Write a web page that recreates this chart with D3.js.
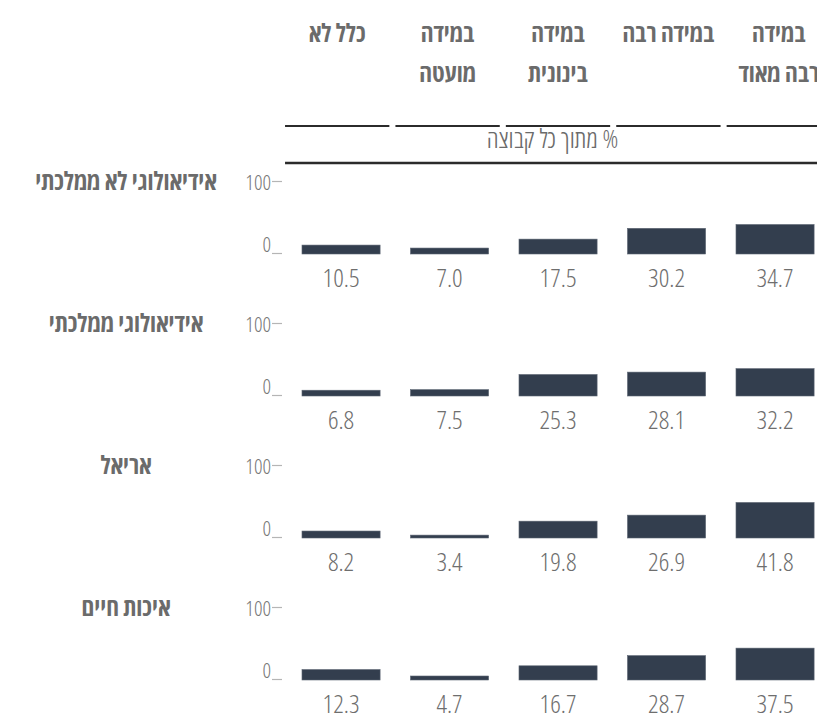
<!DOCTYPE html>
<html lang="he">
<head>
<meta charset="utf-8">
<script src="https://cdn.jsdelivr.net/npm/d3@7"></script>
<style>
  html, body { margin: 0; padding: 0; background: #fff; overflow: hidden; }
  svg { display: block; }
  text { font-family: "Open Sans", "DejaVu Sans Condensed", sans-serif; font-stretch: 75%; }
</style>
</head>
<body>
<svg id="chart" width="817" height="715"></svg>
<script>
// ---- data ----
const categories = ["כלל לא", "במידה מועטה", "במידה בינונית", "במידה רבה", "במידה רבה מאוד"];
const categoryLines = [["כלל לא"], ["במידה", "מועטה"], ["במידה", "בינונית"], ["במידה רבה"], ["במידה", "רבה מאוד"]];
const groups = ["אידיאולוגי לא ממלכתי", "אידיאולוגי ממלכתי", "אריאל", "איכות חיים"];
const valuesIdeologicalNonState = [10.5, 7.0, 17.5, 30.2, 34.7];
const valuesIdeologicalState = [6.8, 7.5, 25.3, 28.1, 32.2];
const valuesAriel = [8.2, 3.4, 19.8, 26.9, 41.8];
const valuesQualityOfLife = [12.3, 4.7, 16.7, 28.7, 37.5];
const seriesValues = [valuesIdeologicalNonState, valuesIdeologicalState, valuesAriel, valuesQualityOfLife];
const yTicks = [0, 100];
const unitLabel = "% מתוך כל קבוצה";

// ---- layout ----
const W = 817, H = 715;
const svg = d3.select("#chart");

const x = d3.scaleBand().domain(categories).range([286.8, 829.3]).paddingInner(0.28).paddingOuter(0.14);
const xHead = d3.scaleBand().domain(categories).range([282, 834]).paddingInner(0.055).paddingOuter(0.0275);
const rowBase = d3.scalePoint().domain(groups).range([254, 680]);
const barH = d3.scaleLinear().domain([0, 100]).range([0, 85]);

const barColor = "#333e4e";
const textGray = "#6b6b6b";

// header labels
const head = svg.append("g");
categories.forEach((c, i) => {
  const cx = xHead(c) + xHead.bandwidth() / 2;
  categoryLines[i].forEach((line, j) => {
    head.append("text")
      .attr("x", cx).attr("y", 42 + j * 40)
      .attr("text-anchor", "middle").attr("direction", "rtl")
      .attr("font-size", 25).attr("font-weight", 700)
      .attr("fill", textGray).text(line);
  });
  head.append("line")
    .attr("x1", xHead(c)).attr("x2", xHead(c) + xHead.bandwidth())
    .attr("y1", 126).attr("y2", 126)
    .attr("stroke", "#2b2b2b").attr("stroke-width", 2);
});

head.append("text")
  .attr("x", (xHead.range()[0] + W) / 2 + 3).attr("y", 148)
  .attr("text-anchor", "middle").attr("direction", "rtl")
  .attr("font-size", 26).attr("font-weight", 300)
  .attr("fill", textGray).text(unitLabel);

head.append("line")
  .attr("x1", xHead(categories[0])).attr("x2", W)
  .attr("y1", 163).attr("y2", 163)
  .attr("stroke", "#2b2b2b").attr("stroke-width", 2.5);

// rows
groups.forEach((g, gi) => {
  const base = rowBase(g);
  const row = svg.append("g");

  row.append("text")
    .attr("x", 126).attr("y", base - 64)
    .attr("text-anchor", "middle").attr("direction", "rtl")
    .attr("font-size", 25).attr("font-weight", 700)
    .attr("fill", textGray).text(g);

  // y axis
  const yAxisScale = d3.scaleLinear().domain([0, 100]).range([base - 1, base - 73]);
  const ax = row.append("g").attr("transform", "translate(282,0)")
    .call(d3.axisLeft(yAxisScale).tickValues(yTicks).tickSize(10).tickPadding(1).tickFormat(d3.format("d")));
  ax.select(".domain").remove();
  ax.selectAll(".tick line").attr("stroke", "#b5b5b5").attr("stroke-width", 1.2);
  ax.selectAll(".tick text")
    .attr("fill", "#777").attr("font-size", 21).attr("font-weight", 300)
    .attr("font-family", null)
    .attr("y", d => d === 0 ? -8 : 2);

  // bars
  row.selectAll("rect").data(seriesValues[gi]).join("rect")
    .attr("x", (d, i) => x(categories[i]))
    .attr("width", x.bandwidth())
    .attr("y", d => base - barH(d))
    .attr("height", d => barH(d))
    .attr("fill", barColor)
    .attr("stroke", "#5d6673").attr("stroke-width", 0.6);

  // value labels
  row.selectAll("text.val").data(seriesValues[gi]).join("text")
    .attr("class", "val")
    .attr("x", (d, i) => x(categories[i]) + x.bandwidth() / 2)
    .attr("y", base + 33)
    .attr("text-anchor", "middle")
    .attr("font-size", 26).attr("font-weight", 300)
    .attr("fill", "#6e6e6e")
    .text(d => d3.format(".1f")(d));
});
</script>
</body>
</html>
